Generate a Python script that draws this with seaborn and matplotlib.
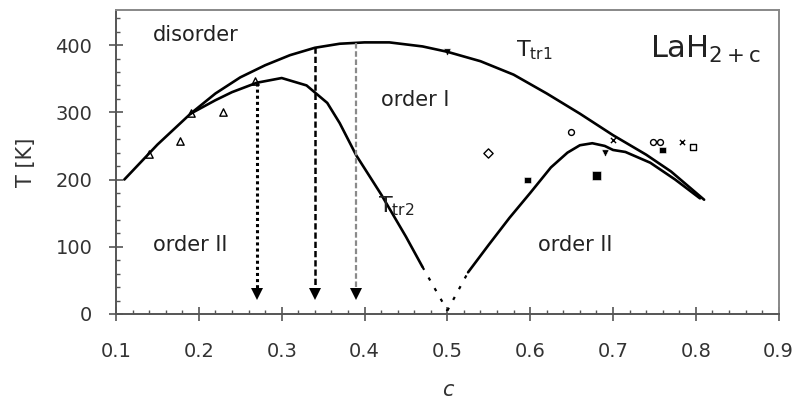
import numpy as np
import matplotlib
matplotlib.use("Agg")
import matplotlib.pyplot as plt
import seaborn as sns
from matplotlib.ticker import MultipleLocator

# transition line T_tr1 (disorder / order I)
c_tr1 = [0.11, 0.15, 0.19, 0.22, 0.25, 0.28, 0.31, 0.34, 0.37, 0.40, 0.43, 0.47,
         0.50, 0.54, 0.58, 0.62, 0.66, 0.70, 0.74, 0.77, 0.81]
T_tr1 = [200, 252, 298, 328, 352, 370, 385, 396, 402, 404, 404, 398,
         390, 376, 356, 328, 298, 266, 237, 212, 170]

# transition line T_tr2 (order I / order II), left branch
c_tr2 = [0.19, 0.22, 0.24, 0.27, 0.30, 0.33, 0.355, 0.37, 0.39, 0.42, 0.45, 0.47]
T_tr2 = [298, 318, 330, 344, 351, 340, 314, 284, 236, 178, 115, 70]
c_tr2_ext = [0.47, 0.50]
T_tr2_ext = [70, 5]

# order II boundary, right branch
c_ord2 = [0.525, 0.55, 0.575, 0.60, 0.625, 0.645, 0.66, 0.675, 0.69, 0.70,
          0.715, 0.745, 0.775, 0.805]
T_ord2 = [62, 103, 143, 180, 218, 240, 251, 254, 250, 244, 241, 225, 200, 172]
c_ord2_ext = [0.50, 0.525]
T_ord2_ext = [5, 62]

# measured points
tri_c = [0.14, 0.177, 0.19, 0.229, 0.268]
tri_T = [238, 257, 299, 300, 347]
diam_c = [0.549]
diam_T = [239]
circ_c = [0.649, 0.748, 0.757]
circ_T = [271, 256, 256]
fsq_c = [0.597, 0.68, 0.76]
fsq_T = [199, 206, 244]
fsq_size = [22, 40, 22]
dtri_c = [0.69, 0.50]
dtri_T = [240, 389]
x_c = [0.70, 0.783]
x_T = [259, 256]
osq_c = [0.797]
osq_T = [248]

# arrows
arrow_c = [0.27, 0.34, 0.39]
arrow_top = [343, 397, 403]
arrow_tip = [30, 30, 30]

sns.set_style("ticks")
plt.rcParams["font.family"] = ["DejaVu Sans"]

fig, ax = plt.subplots(figsize=(7.97, 4.05), dpi=100)
fig.subplots_adjust(left=0.1456, right=0.977, bottom=0.2247, top=0.975)

lw = 1.9
sns.lineplot(x=c_tr1, y=T_tr1, sort=False, estimator=None, color="k", lw=lw, ax=ax)
sns.lineplot(x=c_tr2, y=T_tr2, sort=False, estimator=None, color="k", lw=lw, ax=ax)
sns.lineplot(x=c_ord2, y=T_ord2, sort=False, estimator=None, color="k", lw=lw, ax=ax)
ax.plot(c_tr2_ext, T_tr2_ext, color="k", lw=1.6, ls=(0, (1.5, 4)))
ax.plot(c_ord2_ext, T_ord2_ext, color="k", lw=1.6, ls=(0, (1.5, 4)))

styles = [((0, (1, 1)), "k", 2.2), ((0, (2.5, 1.2)), "k", 1.8),
          ((0, (2.5, 1.2)), "#8a8a8a", 1.6)]
for c, top, tip, (ls, col, w) in zip(arrow_c, arrow_top, arrow_tip, styles):
    ax.plot([c, c], [top, tip + 4], color=col, ls=ls, lw=w)
    ax.plot([c], [tip], marker="v", color="k", ms=8, mew=0)

sns.scatterplot(x=tri_c, y=tri_T, marker="^", s=28, facecolor="white",
                edgecolor="k", linewidth=1, ax=ax)
sns.scatterplot(x=diam_c, y=diam_T, marker="D", s=22, facecolor="white",
                edgecolor="k", linewidth=1, ax=ax)
sns.scatterplot(x=circ_c, y=circ_T, marker="o", s=18, facecolor="white",
                edgecolor="k", linewidth=1, ax=ax)
sns.scatterplot(x=fsq_c, y=fsq_T, marker="s", s=fsq_size, color="k", ax=ax)
sns.scatterplot(x=dtri_c, y=dtri_T, marker="v", s=28, color="k", ax=ax)
sns.scatterplot(x=x_c, y=x_T, marker="x", s=14, color="k", linewidth=1, ax=ax)
sns.scatterplot(x=osq_c, y=osq_T, marker="s", s=24, facecolor="white",
                edgecolor="k", linewidth=1, ax=ax)

tfs = 15
tcol = "#222222"
ax.text(0.145, 415, "disorder", fontsize=tfs, va="center", color=tcol)
ax.text(0.42, 318, "order I", fontsize=tfs, va="center", color=tcol)
ax.text(0.145, 103, "order II", fontsize=tfs, va="center", color=tcol)
ax.text(0.609, 103, "order II", fontsize=tfs, va="center", color=tcol)
ax.text(0.583, 393, r"$\mathregular{T_{tr1}}$", fontsize=tfs + 1, va="center", color=tcol)
ax.text(0.416, 160, r"$\mathregular{T_{tr2}}$", fontsize=tfs + 1, va="center", color=tcol)
ax.text(0.745, 393, r"$\mathregular{LaH_{2+c}}$", fontsize=22, va="center", color=tcol)

ax.set_xlim(0.1, 0.9)
ax.set_ylim(0, 452)
ax.xaxis.set_minor_locator(MultipleLocator(0.02))
ax.yaxis.set_major_locator(MultipleLocator(100))
ax.yaxis.set_minor_locator(MultipleLocator(20))
ax.set_xticks(np.arange(0.1, 0.91, 0.1))
ax.set_xticklabels([f"{v:.1f}" for v in np.arange(0.1, 0.91, 0.1)])

ax.tick_params(which="major", direction="inout", length=10, width=1.2,
               color="#555555", labelsize=14, labelcolor="#333333")
ax.tick_params(axis="x", which="major", pad=15)
ax.tick_params(axis="y", which="major", pad=12)
ax.tick_params(which="minor", direction="in", length=3, width=1, color="#555555")

for side in ["left", "bottom"]:
    ax.spines[side].set_color("#555555")
    ax.spines[side].set_linewidth(1.4)
for side in ["top", "right"]:
    ax.spines[side].set_visible(True)
    ax.spines[side].set_color("#888888")
    ax.spines[side].set_linewidth(1.4)

ax.set_xlabel("c", fontsize=15, style="italic", labelpad=14, color="#333333")
ax.set_ylabel("T [K]", fontsize=15, labelpad=14, color="#333333")

fig.savefig("out.png", dpi=100)
